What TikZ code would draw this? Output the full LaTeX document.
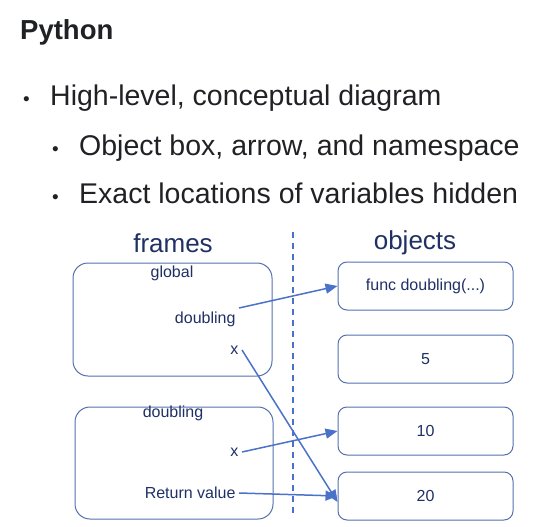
\documentclass[tikz,border=0pt]{standalone}
\usepackage{fontspec}
\setmainfont{Liberation Sans}
\usetikzlibrary{arrows.meta,calc,positioning}

\definecolor{slidetext}{HTML}{202124}
\definecolor{navy}{HTML}{1F3064}
\definecolor{framebox}{HTML}{5470B0}
\definecolor{pointer}{HTML}{4A72C8}

\tikzset{
  frame/.style={draw=framebox, line width=1pt, rounded corners=15pt},
  objbox/.style={draw=framebox, line width=1pt, rounded corners=9pt,
    minimum width=175pt, minimum height=48pt, text=navy,
    font=\fontsize{16}{18}\selectfont},
  small/.style={text=navy, font=\fontsize{16}{18}\selectfont},
  ref/.style={-{Triangle[length=12pt,width=10pt]}, pointer, line width=1.5pt},
  bullet/.style={text=slidetext, anchor=base west, inner sep=0pt,
    font=\fontsize{28.5}{30}\selectfont}
}

\begin{document}
\begin{tikzpicture}[x=1pt,y=-1pt]
\useasboundingbox (0,0) rectangle (534,526);

% Slide title and bullets
\node[bullet, font=\bfseries\fontsize{27.5}{30}\selectfont] (title) at (20,40) {Python};
\node[bullet] (dot1) at (23,106) {\fontsize{19}{20}\selectfont\textbullet};
\node[bullet] (item1) at (50,106) {High-level, conceptual diagram};
\node[bullet] (dot2) at (52,156) {\fontsize{19}{20}\selectfont\textbullet};
\node[bullet] (item2) at (79,156) {Object box, arrow, and namespace};
\node[bullet] (dot3) at (52,204) {\fontsize{19}{20}\selectfont\textbullet};
\node[bullet] (item3) at (79,204) {Exact locations of variables hidden};

% Column headings and separator
\node[text=navy, font=\fontsize{26}{28}\selectfont] (frames) at (173,243) {frames};
\node[text=navy, font=\fontsize{26}{28}\selectfont] (objects) at (415,243) {objects};
\draw[pointer, line width=1.5pt, dash pattern=on 6pt off 5pt] (293,232) -- (293,514);

% Frames
\draw[frame] (73,263) rectangle (272,376);
\node[small, anchor=north] (globalname) at (172,262) {global};
\node[small, anchor=east] (gdoubling) at (239,319) {doubling};
\node[small, anchor=east] (gx) at (242,350) {x};

\draw[frame] (75,407) rectangle (273,519);
\node[small, anchor=north] (callname) at (173,402) {doubling};
\node[small, anchor=east] (cx) at (242,452) {x};
\node[small, anchor=east] (retval) at (239,493) {Return value};

% Objects
\node[objbox] (func) at (425.5,286) {func doubling(...)};
\node[objbox] (five) at (425.5,359) {5};
\node[objbox] (ten) at (425.5,431) {10};
\node[objbox] (twenty) at (425.5,496) {20};

% References
\draw[ref] (gdoubling.north east) -- (func.west);
\draw[ref] (gx.east) -- ([yshift=-6pt]twenty.west);
\draw[ref] (cx.east) -- (ten.west);
\draw[ref] (retval.east) -- (twenty.west);
\end{tikzpicture}
\end{document}
